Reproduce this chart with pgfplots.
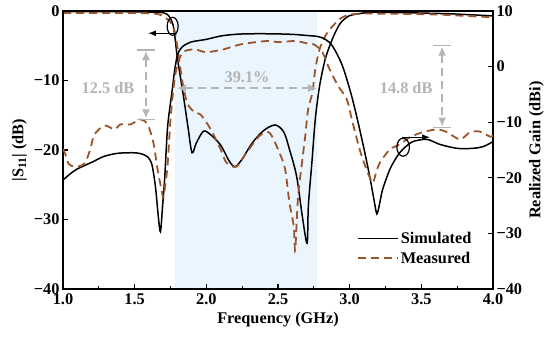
\documentclass[border=0pt]{standalone}
\usepackage{fontspec}
\setmainfont{Liberation Serif}
\usepackage{pgfplots}
\pgfplotsset{compat=1.18}
\usetikzlibrary{arrows.meta}
\definecolor{meas}{RGB}{155,85,45}
\definecolor{band}{RGB}{234,245,253}
\definecolor{annot}{RGB}{180,180,180}
\newcommand{\bigf}{\fontsize{16.3}{19}\selectfont\bfseries}
\pgfplotsset{
  common/.style={
    scale only axis, width=430pt, height=278pt,
    xmin=1, xmax=4,
    xtick={1,1.5,2,2.5,3,3.5,4},
    xticklabels={1.0,1.5,2.0,2.5,3.0,3.5,4.0},
    minor x tick num=1,
    tick align=inside,
    major tick length=5pt, minor tick length=3pt,
    axis line style={line width=1.4pt},
    every tick/.append style={line width=1.2pt, black},
    tick label style={font=\bigf},
    x tick label style={yshift=-1.5pt},
    label style={font=\bigf},
    legend image code/.code={\draw[#1] (0pt,0pt) -- (40pt,0pt);},
  },
  sim/.style={black, line width=1.5pt, smooth, tension=0.5},
  mea/.style={meas, line width=1.8pt, dash pattern=on 8pt off 5pt, smooth, tension=0.5},
}
\begin{document}
\begin{tikzpicture}
\begin{axis}[common, name=main,
  ymin=-40, ymax=0,
  ytick={-40,-30,-20,-10,0},
  yticklabels={−40,−30,−20,−10,0},
  xtick pos=left, ytick pos=left,
  axis on top,
  xlabel={Frequency (GHz)},
  ylabel={|S\textsubscript{11}| (dB)},
]
\addplot[draw=none, fill=band] coordinates {(1.78,-40) (1.78,0) (2.77,0) (2.77,-40)} -- cycle;
% S11 simulated
\addplot[sim] coordinates {
(1.00,-0.10) (1.20,-0.10) (1.40,-0.10) (1.60,-0.15) (1.70,-0.25) (1.725,-0.45)
(1.745,-0.9) (1.76,-1.5) (1.768,-2.0) (1.78,-3.6) (1.80,-7.0) (1.837,-11.8)
(1.872,-16.7) (1.90,-20.4) (1.93,-19.0) (1.98,-17.3) (2.03,-17.8) (2.10,-19.3)
(2.16,-21.6) (2.20,-22.4) (2.25,-21.3) (2.32,-19.0) (2.40,-17.2) (2.48,-16.4)
(2.54,-17.4) (2.58,-19.9) (2.63,-23.8) (2.67,-29.6) (2.703,-33.4) (2.712,-28.0)
(2.738,-21.4) (2.76,-15.6) (2.79,-10.8) (2.83,-6.9) (2.88,-4.0) (2.93,-1.9)
(2.98,-0.9) (3.02,-0.55) (3.14,-0.2) (3.30,-0.2) (3.50,-0.3) (3.70,-0.4)
(3.90,-0.6) (4.00,-0.7)
};
% S11 measured
\addplot[mea] coordinates {
(1.00,-0.3) (1.30,-0.3) (1.50,-0.3) (1.65,-0.4) (1.70,-0.8) (1.75,-1.6)
(1.78,-3.0) (1.80,-5.5) (1.82,-8.4) (1.84,-11.0) (1.87,-13.4) (1.92,-14.6)
(1.96,-14.9) (2.03,-17.0) (2.10,-19.9) (2.14,-21.8) (2.21,-22.4) (2.28,-20.4)
(2.37,-18.0) (2.44,-17.5) (2.51,-20.4) (2.55,-22.8) (2.58,-27.6) (2.61,-31.0)
(2.62,-34.4) (2.64,-26.7) (2.67,-21.4) (2.69,-18.0) (2.71,-14.2) (2.74,-11.7)
(2.76,-8.4) (2.79,-5.5) (2.83,-3.6) (2.88,-2.2) (2.95,-0.9) (3.05,-0.4)
(3.30,-0.4) (3.60,-0.5) (3.80,-0.7) (4.00,-0.9)
};
% annotations (S11 axis)
\draw[line width=1.2pt] (axis cs:1.765,-2.2) ellipse [x radius=5.5pt, y radius=9pt];
\draw[line width=1.2pt, -{Latex[length=8pt,width=6pt]}] (axis cs:1.78,-3.2) -- (axis cs:1.593,-3.2);
\draw[annot, line width=1.5pt, dash pattern=on 8pt off 5pt,
  {Latex[length=9pt,width=8pt]}-{Latex[length=9pt,width=8pt]}]
  (axis cs:1.795,-11.1) -- (axis cs:2.773,-11.1);
\node[annot, font=\bigf] at (axis cs:2.284,-9.5) {39.1\%};
\end{axis}
\begin{axis}[common,
  ymin=-40, ymax=10,
  ytick={-40,-30,-20,-10,0,10},
  yticklabels={−40,−30,−20,−10,0,10},
  axis x line=none, axis y line*=right,
  ylabel={Realized Gain (dBi)},
  legend style={at={(0.962,0.22)}, anchor=north east, draw=none, fill=none,
    font=\bigf, row sep=3pt},
  legend cell align=left,
]
% Gain simulated
\addplot[sim] coordinates {
(1.00,-20.4) (1.05,-19.3) (1.10,-18.4) (1.21,-17.1) (1.28,-16.2) (1.38,-15.6)
(1.50,-15.5) (1.56,-15.8) (1.59,-16.2) (1.62,-17.6) (1.645,-21.6) (1.665,-27.0)
(1.68,-29.7) (1.695,-25.0) (1.71,-19.8) (1.73,-10.8) (1.76,-4.6) (1.78,-0.5)
(1.80,2.2) (1.83,3.5) (1.89,4.4) (2.00,4.9) (2.10,5.5) (2.20,5.8) (2.30,5.9)
(2.45,5.9) (2.60,5.8) (2.70,5.6) (2.78,5.4) (2.83,4.9) (2.88,3.7) (2.95,0.1)
(3.02,-5.9) (3.09,-13.6) (3.14,-19.8) (3.17,-24.0) (3.19,-26.5) (3.21,-24.5)
(3.23,-22.1) (3.28,-18.5) (3.33,-16.2) (3.37,-14.9) (3.44,-13.5) (3.54,-13.1)
(3.63,-14.0) (3.75,-14.7) (3.86,-14.7) (3.93,-14.4) (4.00,-13.5)
};
\addlegendentry{Simulated}
% Gain measured
\addplot[mea] coordinates {
(1.00,-14.8) (1.02,-16.0) (1.04,-17.5) (1.08,-18.0) (1.13,-17.8) (1.16,-17.0)
(1.19,-14.9) (1.22,-12.2) (1.29,-10.6) (1.36,-11.3) (1.40,-10.4) (1.47,-10.4)
(1.54,-9.5) (1.59,-10.4) (1.63,-13.6) (1.66,-18.5) (1.69,-22.5) (1.70,-23.5)
(1.715,-21.0) (1.73,-17.6) (1.75,-9.5) (1.77,-4.1) (1.79,-0.5) (1.82,1.9)
(1.85,2.8) (1.92,3.1) (2.00,2.6) (2.12,3.1) (2.24,4.0) (2.42,4.6) (2.50,4.4)
(2.62,4.6) (2.70,4.2) (2.75,4.0) (2.81,2.6) (2.86,-0.5) (2.92,-3.5) (2.98,-5.9)
(3.02,-10.0) (3.07,-14.9) (3.11,-18.0) (3.15,-20.5) (3.165,-20.8) (3.19,-18.5)
(3.21,-17.3) (3.28,-14.9) (3.35,-14.0) (3.42,-12.7) (3.51,-11.8) (3.61,-11.3)
(3.68,-11.8) (3.77,-13.1) (3.84,-11.8) (3.91,-11.7) (3.98,-12.6) (4.00,-12.4)
};
\addlegendentry{Measured}
% annotations (gain axis)
\draw[line width=1.2pt] (axis cs:3.373,-14.5) ellipse [x radius=6.3pt, y radius=9pt];
\draw[line width=1.2pt, -{Latex[length=8pt,width=6pt]}] (axis cs:3.366,-12.7) -- (axis cs:3.561,-12.7);
% 12.5 dB
\draw[annot, line width=1.3pt] (axis cs:1.516,3.0) -- (axis cs:1.642,3.0);
\draw[annot, line width=1.3pt] (axis cs:1.516,-9.5) -- (axis cs:1.642,-9.5);
\draw[annot, line width=1.5pt, dash pattern=on 8pt off 5pt,
  {Latex[length=9pt,width=8pt]}-{Latex[length=9pt,width=8pt]}]
  (axis cs:1.579,2.8) -- (axis cs:1.579,-9.3);
\node[annot, font=\bigf] at (axis cs:1.314,-3.76) {12.5 dB};
% 14.8 dB
\draw[annot, line width=1.3pt] (axis cs:3.58,3.8) -- (axis cs:3.71,3.8);
\draw[annot, line width=1.3pt] (axis cs:3.58,-11.0) -- (axis cs:3.71,-11.0);
\draw[annot, line width=1.5pt, dash pattern=on 8pt off 5pt,
  {Latex[length=9pt,width=8pt]}-{Latex[length=9pt,width=8pt]}]
  (axis cs:3.645,3.6) -- (axis cs:3.645,-10.8);
\node[annot, font=\bigf] at (axis cs:3.394,-3.76) {14.8 dB};
\end{axis}
\pgfresetboundingbox
\path[use as bounding box] ([xshift=-63pt,yshift=-51pt]main.south west) rectangle ([xshift=57pt,yshift=11pt]main.north east);
\end{tikzpicture}
\end{document}
